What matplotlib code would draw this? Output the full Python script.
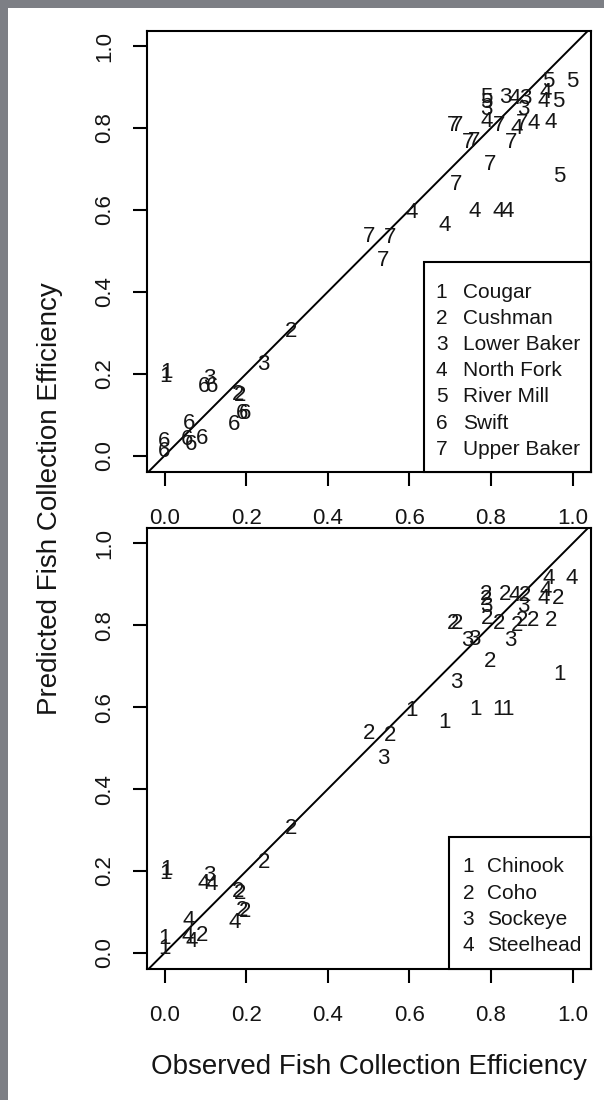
import matplotlib
matplotlib.use("Agg")
import matplotlib.pyplot as plt
from matplotlib.patches import Rectangle

plt.rcParams['font.family'] = ['Liberation Sans', 'DejaVu Sans']

# Observed / predicted fish collection efficiency, with dam code and species code
observed = [0.941, 0.998, 0.788, 0.788, 0.788, 0.835, 0.859, 0.884, 0.934, 0.929,
            0.965, 0.879, 0.790, 0.820, 0.876, 0.863, 0.904, 0.946, 0.707, 0.717,
            0.743, 0.759, 0.848, 0.798, 0.968, 0.715, 0.606, 0.761, 0.818, 0.840,
            0.687, 0.500, 0.553, 0.536, 0.310, 0.243, 0.006, 0.002, 0.110, 0.097,
            0.116, 0.180, 0.186, 0.191, 0.197, 0.171, 0.059, 0.056, 0.066, 0.092,
            0.000, 0.000]
predicted = [0.914, 0.914, 0.875, 0.862, 0.845, 0.875, 0.872, 0.872, 0.886, 0.865,
             0.866, 0.846, 0.817, 0.805, 0.811, 0.799, 0.811, 0.813, 0.805, 0.805,
             0.764, 0.766, 0.764, 0.711, 0.681, 0.661, 0.593, 0.595, 0.595, 0.595,
             0.562, 0.535, 0.532, 0.476, 0.303, 0.222, 0.203, 0.193, 0.189, 0.170,
             0.168, 0.150, 0.146, 0.104, 0.102, 0.075, 0.079, 0.040, 0.028, 0.042,
             0.035, 0.010]
dam_code = [5, 5, 5, 5, 3, 3, 4, 3, 4, 4,
            5, 3, 4, 7, 7, 4, 4, 4, 7, 7,
            7, 7, 7, 7, 5, 7, 4, 4, 4, 4,
            4, 7, 7, 7, 2, 3, 1, 1, 3, 6,
            6, 2, 2, 6, 6, 6, 6, 6, 6, 6,
            6, 6]
species_code = [4, 4, 2, 2, 3, 2, 4, 2, 4, 4,
                2, 3, 2, 2, 2, 2, 2, 2, 2, 2,
                3, 3, 3, 2, 1, 3, 1, 1, 1, 1,
                1, 2, 2, 3, 2, 2, 1, 1, 3, 4,
                4, 2, 2, 2, 2, 4, 4, 4, 4, 2,
                1, 1]

dam_names = ["Cougar", "Cushman", "Lower Baker", "North Fork",
             "River Mill", "Swift", "Upper Baker"]
species_names = ["Chinook", "Coho", "Sockeye", "Steelhead"]
ticks = [0.0, 0.2, 0.4, 0.6, 0.8, 1.0]
tick_labels = ["0.0", "0.2", "0.4", "0.6", "0.8", "1.0"]

W, H = 604, 1100
fig = plt.figure(figsize=(W / 100, H / 100), dpi=100, facecolor='#7d7f85')
fig.add_artist(Rectangle((8 / W, 0), 1 - 8 / W, 1 - 8 / H, transform=fig.transFigure,
                         facecolor='white', edgecolor='none', zorder=-10))

FS_TICK = 16
FS_PT = 16
FS_LEG = 15
LW = 1.5


def panel(rect, codes, names, legend_box, legend_row0, num_x, txt_x):
    ax = fig.add_axes(rect)
    ax.set_xlim(-0.043, 1.045)
    ax.set_ylim(-0.040, 1.037)
    ax.plot([-0.1, 1.1], [-0.1, 1.1], color='black', lw=1.4, zorder=2)
    for x, y, c in zip(observed, predicted, codes):
        ax.text(x, y, str(c), ha='center', va='center', fontsize=FS_PT,
                color='#151515', zorder=3)
    ax.set_xticks(ticks)
    ax.set_xticklabels(tick_labels)
    ax.set_yticks(ticks)
    ax.set_yticklabels(tick_labels, rotation=90, va='center')
    ax.tick_params(axis='both', direction='out', length=10, width=LW,
                   labelsize=FS_TICK, color='black', labelcolor='#151515')
    ax.tick_params(axis='x', pad=16)
    ax.tick_params(axis='y', pad=13)
    for s in ax.spines.values():
        s.set_linewidth(LW)
    # legend box
    bx, by = legend_box
    ax.add_patch(Rectangle((bx, 0), 1 - bx, by, transform=ax.transAxes,
                           facecolor='white', edgecolor='black', lw=LW, zorder=5,
                           clip_on=False))
    row_y, step = legend_row0
    for i, name in enumerate(names):
        yy = row_y - i * step
        ax.text(num_x, yy, str(i + 1), transform=ax.transAxes, ha='center',
                va='center', fontsize=FS_LEG, color='#151515', zorder=6)
        ax.text(txt_x, yy, name, transform=ax.transAxes, ha='left',
                va='center', fontsize=FS_LEG, color='#151515', zorder=6)
    return ax


ax1 = panel([147 / W, 1 - 472 / H, 444 / W, 441 / H], dam_code, dam_names,
            (0.6245, 0.4755), (0.4075, 0.05934), 0.6637, 0.7124)
ax2 = panel([147 / W, 1 - 969.3 / H, 444 / W, 441 / H], species_code, species_names,
            (0.6809, 0.3008), (0.2327, 0.0599), 0.7236, 0.7664)

fig.text(50 / W, 1 - 499 / H, "Predicted Fish Collection Efficiency", rotation=90,
         ha='center', va='center', fontsize=20, color='#151515')
fig.text(369 / W, 1 - 1067 / H, "Observed Fish Collection Efficiency",
         ha='center', va='center', fontsize=20, color='#151515')

fig.savefig("out.png", dpi=100)
